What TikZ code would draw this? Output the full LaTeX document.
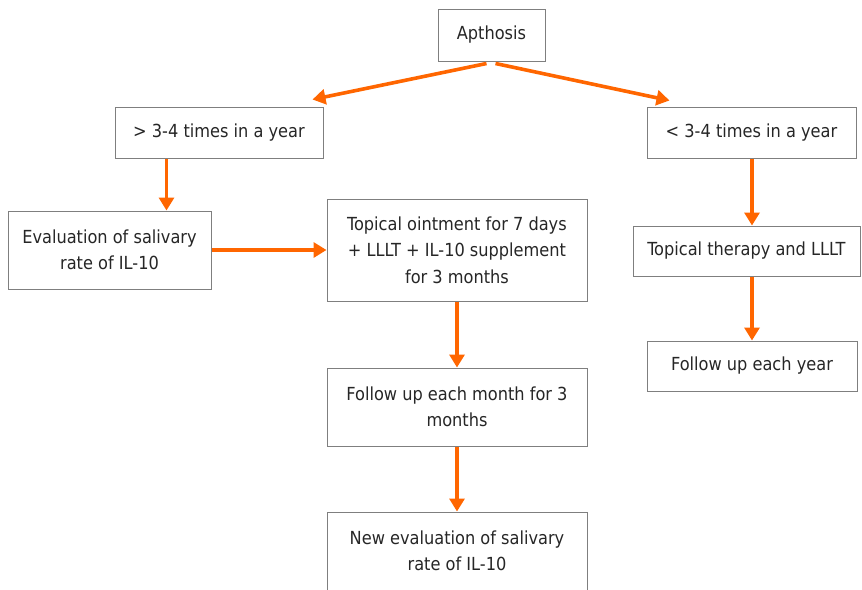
\documentclass[tikz,border=0pt]{standalone}
\usepackage{fontspec}
\setmainfont{DejaVu Sans Condensed}
\usetikzlibrary{arrows.meta}
\definecolor{arrorange}{HTML}{FF6600}
\definecolor{boxgray}{HTML}{7F7F7F}
\tikzset{
  box/.style={draw=boxgray, line width=1pt, align=center, inner sep=0pt,
    font=\fontsize{18}{26.5}\selectfont, text=black!85},
  flow/.style={draw=arrorange, line width=3.6pt,
    -{Triangle[length=13pt,width=15pt]}}
}
\begin{document}
\begin{tikzpicture}[x=1pt,y=-1pt]
  \useasboundingbox (0,0) rectangle (862,589);
  \begin{scope}
  \clip (0,0) rectangle (862,589);
  \node[box, minimum width=107, minimum height=52] (apth) at (491.5,35) {Apthosis};
  \node[box, minimum width=208, minimum height=51] (more) at (219,132.5) {> 3-4 times in a year};
  \node[box, minimum width=209, minimum height=51] (less) at (751.5,132.5) {< 3-4 times in a year};
  \node[box, minimum width=203, minimum height=78] (eval) at (109.5,250) {Evaluation of salivary\\rate of IL-10};
  \node[box, minimum width=260, minimum height=102] (oint) at (457,250) {Topical ointment for 7 days\\+ LLLT + IL-10 supplement\\for 3 months};
  \node[box, minimum width=227, minimum height=50] (ther) at (746.5,251) {Topical therapy and LLLT};
  \node[box, minimum width=210, minimum height=50] (year) at (752,366) {Follow up each year};
  \node[box, minimum width=260, minimum height=78] (month) at (457,407) {Follow up each month for 3\\months};
  \node[box, minimum width=260, minimum height=100, text height=0pt] (neweval) at (457,562) {};
  \node[font=\fontsize{18}{26.5}\selectfont, text=black!85, align=center] (newtxt) at (457,551) {New evaluation of salivary\\rate of IL-10};
  \end{scope}
  % arrows
  \draw[flow] ([xshift=-5pt,yshift=-2pt]apth.south) -- ([xshift=-11pt,yshift=7pt]more.north east);
  \draw[flow] ([xshift=4pt,yshift=-2pt]apth.south) -- ([xshift=23pt,yshift=6pt]less.north west);
  \draw[flow] (more.south -| eval.north east) ++(-45,0) coordinate (a1) -- (a1 |- eval.north);
  \draw[flow] (eval.east) -- (oint.west);
  \draw[flow] (oint.south) -- (month.north);
  \draw[flow] (month.south) -- (neweval.north);
  \draw[flow] (less.south -| year.north) -- (ther.north -| year.north);
  \draw[flow] (ther.south -| year.north) -- (year.north);
\end{tikzpicture}
\end{document}
